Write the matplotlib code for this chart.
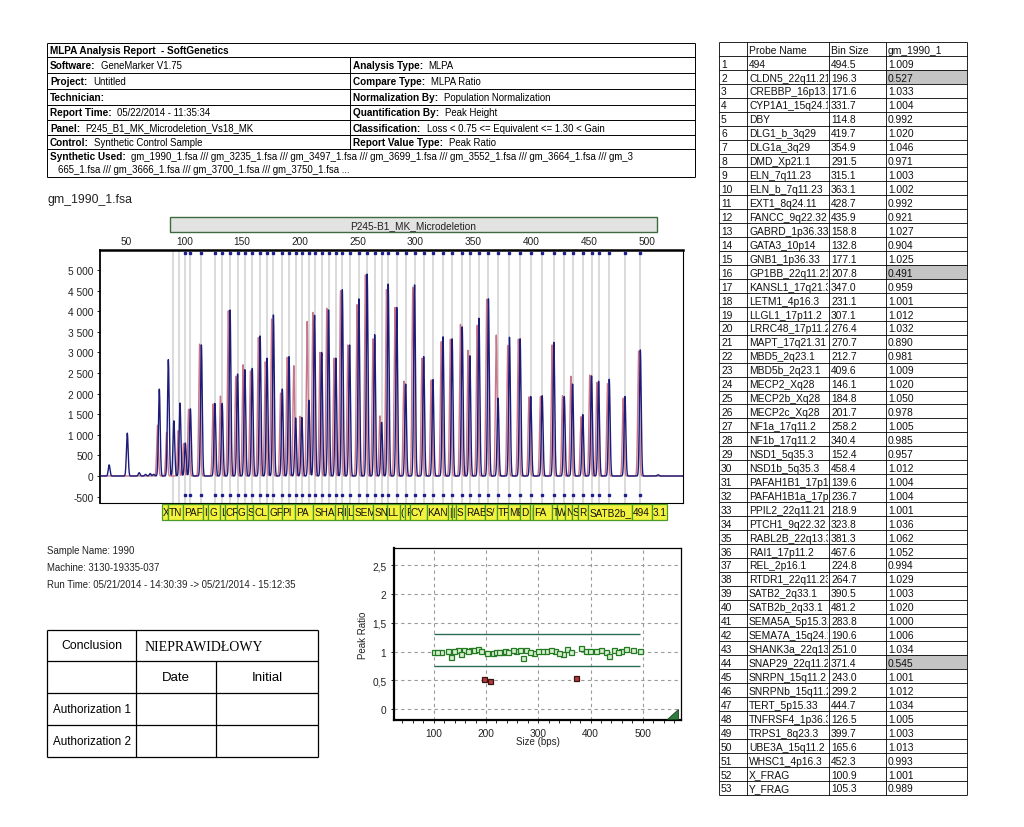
import numpy as np
import matplotlib
matplotlib.use('Agg')
import matplotlib.pyplot as plt
from matplotlib.patches import Rectangle, Polygon

plt.rcParams['font.family'] = ['Liberation Sans', 'DejaVu Sans']

FIG_W, FIG_H = 1024, 828

# probe table, in report order
probe_names = ['494', 'CLDN5_22q11.21', 'CREBBP_16p13.3', 'CYP1A1_15q24.1', 'DBY',
               'DLG1_b_3q29', 'DLG1a_3q29', 'DMD_Xp21.1', 'ELN_7q11.23', 'ELN_b_7q11.23',
               'EXT1_8q24.11', 'FANCC_9q22.32', 'GABRD_1p36.33', 'GATA3_10p14', 'GNB1_1p36.33',
               'GP1BB_22q11.21', 'KANSL1_17q21.31', 'LETM1_4p16.3', 'LLGL1_17p11.2', 'LRRC48_17p11.2',
               'MAPT_17q21.31', 'MBD5_2q23.1', 'MBD5b_2q23.1', 'MECP2_Xq28', 'MECP2b_Xq28',
               'MECP2c_Xq28', 'NF1a_17q11.2', 'NF1b_17q11.2', 'NSD1_5q35.3', 'NSD1b_5q35.3',
               'PAFAH1B1_17p13.3', 'PAFAH1B1a_17p13.3', 'PPIL2_22q11.21', 'PTCH1_9q22.32', 'RABL2B_22q13.33',
               'RAI1_17p11.2', 'REL_2p16.1', 'RTDR1_22q11.23', 'SATB2_2q33.1', 'SATB2b_2q33.1',
               'SEMA5A_5p15.31', 'SEMA7A_15q24.1', 'SHANK3a_22q13.33', 'SNAP29_22q11.21', 'SNRPN_15q11.2',
               'SNRPNb_15q11.2', 'TERT_5p15.33', 'TNFRSF4_1p36.33', 'TRPS1_8q23.3', 'UBE3A_15q11.2',
               'WHSC1_4p16.3', 'X_FRAG', 'Y_FRAG']
bin_sizes = [494.5, 196.3, 171.6, 331.7, 114.8, 419.7, 354.9, 291.5, 315.1, 363.1,
             428.7, 435.9, 158.8, 132.8, 177.1, 207.8, 347.0, 231.1, 307.1, 276.4,
             270.7, 212.7, 409.6, 146.1, 184.8, 201.7, 258.2, 340.4, 152.4, 458.4,
             139.6, 236.7, 218.9, 323.8, 381.3, 467.6, 224.8, 264.7, 390.5, 481.2,
             283.8, 190.6, 251.0, 371.4, 243.0, 299.2, 444.7, 126.5, 399.7, 165.6,
             452.3, 100.9, 105.3]
peak_ratios = [1.009, 0.527, 1.033, 1.004, 0.992, 1.020, 1.046, 0.971, 1.003, 1.002,
               0.992, 0.921, 1.027, 0.904, 1.025, 0.491, 0.959, 1.001, 1.012, 1.032,
               0.890, 0.981, 1.009, 1.020, 1.050, 0.978, 1.005, 0.985, 0.957, 1.012,
               1.004, 1.004, 1.001, 1.036, 1.062, 1.052, 0.994, 1.029, 1.003, 1.020,
               1.000, 1.006, 1.034, 0.545, 1.001, 1.012, 1.034, 1.005, 1.003, 1.013,
               0.993, 1.001, 0.989]

# peak heights (sample = blue, control = red), same order
sample_heights = [3060, 1410, 2860, 3330, 3180, 3245, 3830, 2230, 2340, 4300,
                  1930, 2230, 2610, 1760, 3910, 1840, 2920, 2860, 2900, 4660,
                  1300, 3900, 1950, 2475, 2110, 1420, 4900, 3620, 2580, 2300,
                  4030, 4520, 3000, 3380, 3370, 2350, 4030, 3430, 3330, 1930,
                  4090, 2900, 4300, 1890, 3180, 4640, 1490, 1760, 1930, 3400,
                  2430, 800, 1630]
control_heights = [3030, 2680, 2770, 3320, 3200, 3180, 3660, 2300, 2330, 4290,
                   1950, 2420, 2550, 1940, 3810, 3750, 3050, 2860, 2860, 4520,
                   1460, 3970, 1930, 2420, 2010, 1450, 4880, 3680, 2700, 2270,
                   4010, 4500, 3000, 3260, 3170, 2240, 4070, 3330, 3320, 1890,
                   4090, 2880, 4160, 3420, 3180, 4580, 1440, 1750, 1920, 3360,
                   2450, 790, 1620]

# small peaks outside the probe bins
extra_pos = [35.0, 50.7, 61.0, 66.5, 70.5, 73.5, 78.4, 86.2, 91.0, 96.3, 509.8]
extra_sample = [270, 1040, 80, 40, 60, 40, 2110, 2825, 1340, 1770, 30]
extra_control = [0, 0, 0, 0, 0, 0, 1230, 1060, 0, 1100, 0]
extra_bins = [90.2, 95.1]

# yellow probe label strip under the trace
strip_labels = ['X', 'TN', 'PAF', 'I', 'G', 'L', 'CR', 'G', 'S', 'CL', 'GF', 'PI', 'PA', 'SHA',
                'R', 'I', 'L', 'SEM', 'SN', 'LL', '(', 'F', 'CY', 'KAN', '|', '|', 'S', 'RAB',
                'S/', 'TF', 'ME', 'D', '|', 'FA', 'T', 'W', 'N', 'S', 'R', 'SATB2b_', '494', '3.1']
strip_left = [80.4, 86.2, 99.1, 116.4, 120.8, 130.9, 135.2, 145.3, 154.0, 159.7, 172.7, 184.2,
              195.8, 211.6, 230.4, 237.0, 240.5, 246.2, 263.5, 275.1, 286.6, 290.9, 295.2, 309.7,
              328.4, 331.3, 335.0, 342.8, 360.1, 370.2, 380.3, 390.4, 399.1, 401.9, 417.8, 422.1,
              429.3, 435.1, 440.8, 449.5, 487.0, 504.3]
strip_end = 517.3

header_left = [('Software:', 'GeneMarker V1.75'), ('Project:', 'Untitled'), ('Technician:', ''),
               ('Report Time:', '05/22/2014 - 11:35:34'), ('Panel:', 'P245_B1_MK_Microdeletion_Vs18_MK'),
               ('Control:', 'Synthetic Control Sample')]
header_right = [('Analysis Type:', 'MLPA'), ('Compare Type:', 'MLPA Ratio'),
                ('Normalization By:', 'Population Normalization'), ('Quantification By:', 'Peak Height'),
                ('Classification:', 'Loss < 0.75 <= Equivalent <= 1.30 < Gain'),
                ('Report Value Type:', 'Peak Ratio')]
synthetic_used = ['gm_1990_1.fsa /// gm_3235_1.fsa /// gm_3497_1.fsa /// gm_3699_1.fsa /// gm_3552_1.fsa /// gm_3664_1.fsa /// gm_3',
                  '665_1.fsa /// gm_3666_1.fsa /// gm_3700_1.fsa /// gm_3750_1.fsa ...']
sample_info = ['Sample Name: 1990', 'Machine: 3130-19335-037',
               'Run Time: 05/21/2014 - 14:30:39 -> 05/21/2014 - 15:12:35']

loss_cut, gain_cut = 0.75, 1.30


fig = plt.figure(figsize=(FIG_W / 100, FIG_H / 100), dpi=100)
fig.patch.set_facecolor('white')

# full page axes in pixel units (y down) for the report boxes
axf = fig.add_axes([0, 0, 1, 1])
axf.set_xlim(0, FIG_W)
axf.set_ylim(FIG_H, 0)
axf.axis('off')


def px_axes(l, t, r, b):
    return fig.add_axes([l / FIG_W, 1 - b / FIG_H, (r - l) / FIG_W, (b - t) / FIG_H])


def hline(x0, x1, y, lw=0.7):
    axf.plot([x0, x1], [y, y], color='black', lw=lw, solid_capstyle='butt')


def vline(x, y0, y1, lw=0.7):
    axf.plot([x, x], [y0, y1], color='black', lw=lw, solid_capstyle='butt')


def label_value(x, y, label, value):
    t = axf.text(x, y, label, fontsize=7.2, fontweight='bold', va='center', ha='left')
    if value:
        axf.annotate(value, xy=(1, 0.5), xycoords=t, xytext=(4, 0), textcoords='offset points',
                     fontsize=6.9, va='center', ha='left')


# ---- header box ----
hx0, hx1, hmid = 47, 695, 350
hrows = [44, 58, 74, 90, 106, 121, 136, 150, 178]
for y in hrows:
    hline(hx0, hx1, y)
vline(hx0, hrows[0], hrows[-1])
vline(hx1, hrows[0], hrows[-1])
vline(hmid, hrows[1], hrows[7])
axf.text(50, 51, 'MLPA Analysis Report  - SoftGenetics', fontsize=7.2, fontweight='bold', va='center')
for i, (lab, val) in enumerate(header_left):
    label_value(50, (hrows[i + 1] + hrows[i + 2]) / 2, lab, val)
for i, (lab, val) in enumerate(header_right):
    label_value(353, (hrows[i + 1] + hrows[i + 2]) / 2, lab, val)
label_value(50, 157, 'Synthetic Used:', synthetic_used[0])
axf.text(58, 170, synthetic_used[1], fontsize=6.9, va='center')

axf.text(47, 200, 'gm_1990_1.fsa', fontsize=8.8, va='center', color='#222222')

# ---- electropherogram ----
xmin, xmax = 27.1, 531.4
ax = px_axes(100, 251, 683, 504)
xs = np.linspace(xmin, xmax, 9000)
pos_all = np.array(bin_sizes + extra_pos)
s_all = np.array(sample_heights + extra_sample, dtype=float)
c_all = np.array(control_heights + extra_control, dtype=float)
sig = 0.75


def trace(pos, hts, shift):
    return (hts[:, None] * np.exp(-0.5 * ((xs[None, :] - pos[:, None] - shift) / sig) ** 2)).sum(axis=0)


for b in bin_sizes + extra_bins:
    ax.axvline(b, color='#dadada', lw=1.4, zorder=0)
ax.plot(bin_sizes, [0.988] * len(bin_sizes), 's', ms=2.0, color='#1f1f8f',
        transform=ax.get_xaxis_transform(), clip_on=False, zorder=4)
ax.plot(bin_sizes, [0.03] * len(bin_sizes), 's', ms=2.0, color='#1f1f8f',
        transform=ax.get_xaxis_transform(), clip_on=False, zorder=4)
ax.plot(xs, trace(pos_all, c_all, -1.5), color='#c9758a', lw=1.0, zorder=2)
ax.plot(xs, trace(pos_all, s_all, 0.0), color='#1b1b78', lw=1.0, zorder=3)
ax.set_xlim(xmin, xmax)
ax.set_ylim(-655, 5485)
yt = list(range(-500, 5001, 500))
ax.set_yticks(yt)
ax.set_yticklabels([f'{v:,}'.replace(',', ' ') for v in yt])
ax.tick_params(axis='y', length=2.5, width=0.7, pad=2, labelsize=7.3, colors='#222222')
ax.set_xticks(range(50, 501, 50))
ax.xaxis.tick_top()
ax.tick_params(axis='x', length=0, pad=3, labelsize=7.3, colors='#222222')
for side, lw in [('top', 1.8), ('left', 1.3), ('right', 0.8), ('bottom', 0.8)]:
    ax.spines[side].set_linewidth(lw)
    ax.spines[side].set_color('black')

# panel bar above the trace
axf.add_patch(Rectangle((170, 218), 487, 15, facecolor='#e3e3e3', edgecolor='#3d6b3d', lw=1))
axf.text(413.5, 225.8, 'P245-B1_MK_Microdeletion', fontsize=7.3, ha='center', va='center', color='#222222')

# yellow label strip
axs = px_axes(100, 505, 683, 521)
axs.set_xlim(xmin, xmax)
axs.set_ylim(0, 1)
axs.axis('off')
for i, lab in enumerate(strip_labels):
    left = strip_left[i]
    right = strip_left[i + 1] if i + 1 < len(strip_left) else strip_end
    rect = Rectangle((left, 0), right - left, 1, facecolor='#f3f23c', edgecolor='#4a9a2a', lw=0.9,
                     clip_on=False)
    axs.add_patch(rect)
    t = axs.text(left + 0.7, 0.48, lab, fontsize=7.2, va='center', ha='left', color='#111111')
    t.set_clip_path(rect)
    t.set_clip_on(True)

# ---- sample info ----
for i, line in enumerate(sample_info):
    axf.text(47, 551 + i * 17, line, fontsize=6.9, va='center', color='#222222')

# ---- conclusion table ----
cx = [47, 136, 216, 318]
cy = [631, 662, 694, 726, 758]
for y in cy:
    hline(cx[0], cx[-1], y, lw=0.9)
vline(cx[0], cy[0], cy[-1], lw=0.9)
vline(cx[1], cy[0], cy[-1], lw=0.9)
vline(cx[2], cy[1], cy[-1], lw=0.9)
vline(cx[3], cy[0], cy[-1], lw=0.9)
axf.text((cx[0] + cx[1]) / 2, (cy[0] + cy[1]) / 2, 'Conclusion', fontsize=8.8, ha='center', va='center')
axf.text(145, (cy[0] + cy[1]) / 2 + 1, 'NIEPRAWIDŁOWY', fontsize=10, ha='left', va='center',
         family=['Liberation Serif', 'DejaVu Serif'])
axf.text((cx[1] + cx[2]) / 2, (cy[1] + cy[2]) / 2, 'Date', fontsize=9.5, ha='center', va='center')
axf.text((cx[2] + cx[3]) / 2, (cy[1] + cy[2]) / 2, 'Initial', fontsize=9.5, ha='center', va='center')
axf.text(53, (cy[2] + cy[3]) / 2, 'Authorization 1', fontsize=8.4, ha='left', va='center')
axf.text(53, (cy[3] + cy[4]) / 2, 'Authorization 2', fontsize=8.4, ha='left', va='center')

# ---- ratio plot ----
axr = px_axes(394, 549, 681, 721)
loss = [r < loss_cut for r in peak_ratios]
ok_x = [b for b, l in zip(bin_sizes, loss) if not l]
ok_y = [r for r, l in zip(peak_ratios, loss) if not l]
bad_x = [b for b, l in zip(bin_sizes, loss) if l]
bad_y = [r for r, l in zip(peak_ratios, loss) if l]
axr.hlines([gain_cut, loss_cut], min(bin_sizes), max(bin_sizes), color='#2e6b55', lw=1.0, zorder=2)
axr.plot(ok_x, ok_y, 's', ms=3.6, mfc='#d6efcf', mec='#237a23', mew=0.9, zorder=3)
axr.plot(bad_x, bad_y, 's', ms=3.6, mfc='#b23a3a', mec='#3a1212', mew=0.9, zorder=3)
axr.set_xlim(24, 573)
axr.set_ylim(-0.187, 2.8)
axr.set_xticks(range(100, 501, 100))
axr.set_xticks(range(40, 571, 20), minor=True)
yt_r = [0, 0.5, 1, 1.5, 2, 2.5]
axr.set_yticks(yt_r)
axr.set_yticklabels([f'{v:g}'.replace('.', ',') for v in yt_r])
axr.grid(True, which='major', color='#9a9a9a', lw=0.8, linestyle=(0, (3, 3)))
axr.tick_params(axis='both', which='major', length=2.5, width=0.7, pad=3, labelsize=7.3, colors='#222222')
axr.tick_params(axis='x', which='minor', length=2, width=0.6)
axr.set_ylabel('Peak Ratio', fontsize=7, labelpad=3, color='#222222')
axr.set_xlabel('Size (bps)', fontsize=7, labelpad=-1.5, color='#222222')
for side, lw in [('top', 0.9), ('left', 1.6), ('right', 0.9), ('bottom', 1.6)]:
    axr.spines[side].set_linewidth(lw)
    axr.spines[side].set_color('black')
axr.add_patch(Polygon([(0.95, 0.008), (0.99, 0.008), (0.99, 0.066)], closed=True,
                      transform=axr.transAxes, facecolor='#2f7d3a', edgecolor='#1c3d22', lw=0.6,
                      clip_on=False, zorder=5))

# ---- probe table on the right ----
tcols = [719, 747, 829, 886, 967]
ttop = 43
trow = 13.94
nrow = len(probe_names) + 1
tbottom = ttop + nrow * trow
for i, r in enumerate(peak_ratios):
    if r < loss_cut:
        axf.add_patch(Rectangle((tcols[3], ttop + (i + 1) * trow), tcols[4] - tcols[3], trow,
                                facecolor='#c4c4c4', edgecolor='none'))
for i in range(nrow + 1):
    hline(tcols[0], tcols[-1], ttop + i * trow, lw=0.6)
for x in tcols:
    vline(x, ttop, tbottom, lw=0.6)

col_clips = []
for j in range(4):
    rc = Rectangle((tcols[j], ttop), tcols[j + 1] - tcols[j] - 1, nrow * trow,
                   transform=axf.transData, facecolor='none', edgecolor='none')
    col_clips.append(rc)


def cell(j, i, s):
    t = axf.text(tcols[j] + 2, ttop + (i + 0.55) * trow, s, fontsize=7.4, va='center', ha='left',
                 color='#111111')
    t.set_clip_path(col_clips[j])
    t.set_clip_on(True)


for j, s in enumerate(['', 'Probe Name', 'Bin Size', 'gm_1990_1']):
    cell(j, 0, s)
for i in range(len(probe_names)):
    cell(0, i + 1, str(i + 1))
    cell(1, i + 1, probe_names[i])
    cell(2, i + 1, f'{bin_sizes[i]:.1f}')
    cell(3, i + 1, f'{peak_ratios[i]:.3f}')

fig.savefig('out.png', dpi=100)
